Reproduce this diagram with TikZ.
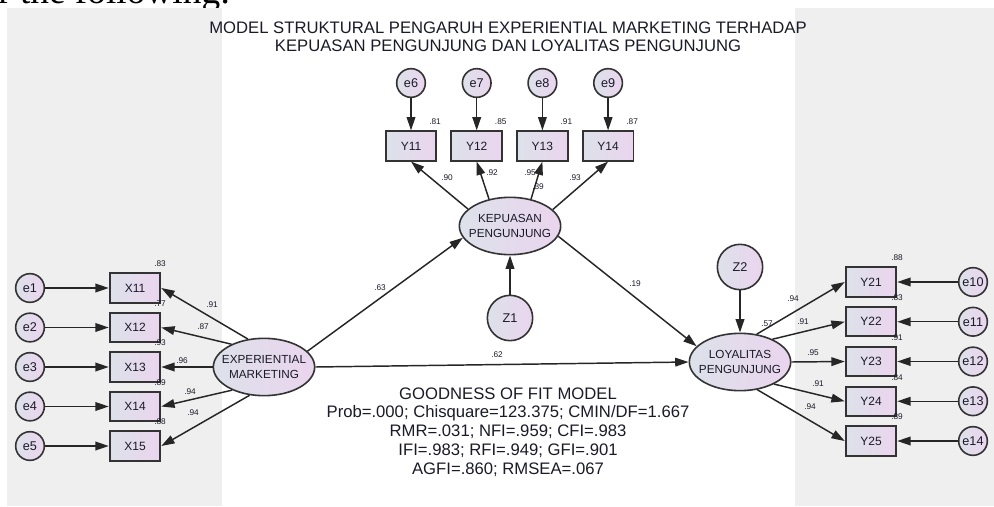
\documentclass[tikz,border=0pt]{standalone}
\usepackage{fontspec}
\setmainfont{Liberation Sans}
\newfontfamily\pageserif{Liberation Serif}
\usetikzlibrary{arrows.meta,shapes.geometric,positioning}
\definecolor{panelgray}{HTML}{EFEFEF}
\definecolor{shadeblue}{HTML}{DDE1EA}
\definecolor{shadepink}{HTML}{EAD5EE}
\definecolor{edgegray}{HTML}{333333}
\definecolor{textdark}{HTML}{1A1A28}

\begin{document}
\begin{tikzpicture}[
  x=0.75pt, y=-0.75pt,
  >={Triangle[length=10pt,width=6.5pt]},
  font=\fontsize{9}{10.5}\selectfont,
  indicator/.style={rectangle, draw=edgegray, line width=1.4pt, left color=shadeblue, right color=shadepink, minimum width=38pt, minimum height=22pt, inner sep=0pt, text=textdark},
  errterm/.style={circle, draw=edgegray, line width=1.2pt, left color=shadeblue, right color=shadepink, minimum size=21.5pt, inner sep=0pt, text=textdark, font=\fontsize{9.5}{10}\selectfont},
  disturb/.style={errterm, minimum size=34pt},
  construct/.style={ellipse, draw=edgegray, line width=1.2pt, left color=shadeblue, right color=shadepink, minimum width=76pt, minimum height=43pt, inner xsep=-8pt, inner ysep=0pt, align=center, text=textdark, font=\fontsize{8.8}{11}\selectfont},
  coef/.style={inner sep=0pt, text=textdark, font=\fontsize{6.2}{7}\selectfont},
  heading/.style={align=center, text=textdark, font=\fontsize{12.5}{13.8}\selectfont},
  regpath/.style={->, draw=black!85, line width=1.1pt}
]
  \useasboundingbox (0,0) rectangle (994,506);
  \node[anchor=base west, inner sep=0pt, font=\pageserif\fontsize{28}{30}\selectfont] (pageline) at (-2,4) {r the following:};

  % grey side panels
  \fill[panelgray] (7,8) rectangle (222,506);
  \fill[panelgray] (795,8) rectangle (994,506);

  \node[heading] (title) at (508,37) {MODEL STRUKTURAL PENGARUH EXPERIENTIAL MARKETING TERHADAP\\KEPUASAN PENGUNJUNG DAN LOYALITAS PENGUNJUNG};

  % experiential marketing and its indicators
  \node[construct] (EM) at (264,367) {EXPERIENTIAL\\MARKETING};
  \foreach \i/\ang/\load/\lx/\ly/\rsq in {1/120/.91/212/305/.83, 2/145/.87/203/327/.77, 3/180/.96/182/361/.93, 4/216/.94/190/392/.89, 5/243/.94/193/413/.88} {
    \node[errterm] (e\i) at (30,{288+39.5*(\i-1)}) {e\i};
    \node[indicator] (X1\i) at (135,{288+39.5*(\i-1)}) {X1\i};
    \draw[regpath] (e\i) -- (X1\i);
    \draw[regpath] (EM.\ang) -- (X1\i.east);
    \node[coef] (lX1\i) at (\lx,\ly) {\load};
    \node[coef] (rX1\i) at (160,{264+39.5*(\i-1)}) {\rsq};
  }

  % kepuasan pengunjung
  \node[construct] (KP) at (510,226) {KEPUASAN\\PENGUNJUNG};
  \foreach \i/\ang/\load/\lx/\ly/\rsq in {1/158/.90/447/178/.81, 2/128/.92/492/173/.85, 3/52/.95/530/173/.91, 4/21/.93/575/178/.87} {
    \pgfmathtruncatemacro{\k}{\i+5}
    \node[errterm] (e\k) at ({411+65.7*(\i-1)},83) {e\k};
    \node[indicator] (Y1\i) at ({411+65.7*(\i-1)},146) {Y1\i};
    \draw[regpath] (e\k) -- (Y1\i);
    \draw[regpath] (KP.\ang) -- (Y1\i.south);
    \node[coef] (lY1\i) at (\lx,\ly) {\load};
    \node[coef] (rY1\i) at ({435+65.7*(\i-1)},122) {\rsq};
  }
  \node[coef] (rKP) at (538,187) {.39};

  % loyalitas pengunjung
  \node[construct] (LP) at (740,362) {LOYALITAS\\PENGUNJUNG};
  \foreach \i/\ang/\load/\lx/\ly/\rsq in {1/59/.94/793/299/.88, 2/35/.91/803/322/.83, 3/0/.95/813/353/.91, 4/327/.91/818/384/.84, 5/302/.94/810/407/.89} {
    \pgfmathtruncatemacro{\k}{\i+9}
    \node[errterm] (e\k) at (973,{282+39.75*(\i-1)}) {e\k};
    \node[indicator] (Y2\i) at (871,{282+39.75*(\i-1)}) {Y2\i};
    \draw[regpath] (e\k) -- (Y2\i);
    \draw[regpath] (LP.\ang) -- (Y2\i.west);
    \node[coef] (lY2\i) at (\lx,\ly) {\load};
    \node[coef] (rY2\i) at (897,{258+39.75*(\i-1)}) {\rsq};
  }
  \node[coef] (rLP) at (767,324) {.57};

  % structural paths
  \node[disturb] (Z1) at (510,318) {Z1};
  \node[disturb] (Z2) at (740,267) {Z2};
  \draw[regpath] (Z1) -- (KP);
  \draw[regpath] (Z2) -- (LP);
  \draw[regpath] (EM.20) -- (KP.194);
  \draw[regpath] (KP.348) -- (LP.160);
  \draw[regpath] (EM.east) -- (LP.west);
  \node[coef] (gEK) at (380,288) {.63};
  \node[coef] (gKL) at (635,284) {.19};
  \node[coef] (gEL) at (497,355) {.62};

  \node[heading, font=\fontsize{12.5}{14.1}\selectfont] (fit) at (508,432) {GOODNESS OF FIT MODEL\\Prob=.000; Chisquare=123.375; CMIN/DF=1.667\\RMR=.031; NFI=.959; CFI=.983\\IFI=.983; RFI=.949; GFI=.901\\AGFI=.860; RMSEA=.067};
\end{tikzpicture}
\end{document}
